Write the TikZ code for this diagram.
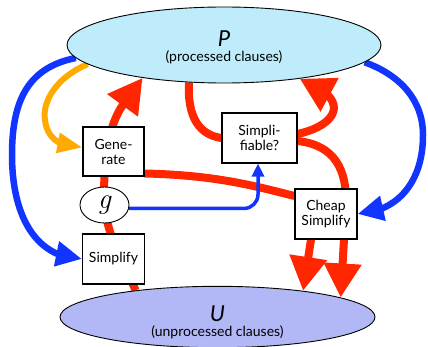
\documentclass[tikz,border=0pt]{standalone}
\usepackage{fontspec}
\setmainfont{Lato}
\newfontfamily\lmfont{Latin Modern Roman}
\usetikzlibrary{arrows.meta,bending,shapes.geometric,backgrounds}
\definecolor{myred}{RGB}{255,38,0}
\definecolor{myblue}{RGB}{18,52,255}
\definecolor{myorange}{RGB}{255,170,0}
\definecolor{pfill}{RGB}{190,236,250}
\definecolor{ufill}{RGB}{178,184,246}
\tikzset{
  boxnode/.style={draw=black, line width=1.1pt, fill=white, inner sep=0pt,
    align=center, font=\fontsize{14}{15}\selectfont},
  setnode/.style={ellipse, draw=black, line width=0.9pt, inner sep=0pt, align=center},
  redline/.style={draw=myred, line width=8pt},
  redarrow/.style={redline, -{Triangle[length=34pt,width=36pt]}},
  redquick/.style={redline, -{Triangle[length=34pt,width=36pt,quick]}},
  bluearrow/.style={draw=myblue, line width=6.5pt, -{Triangle[length=26pt,width=24pt]}},
  orangearrow/.style={draw=myorange, line width=6pt, -{Triangle[length=25pt,width=19pt]}},
  thinblue/.style={draw=myblue, line width=3.5pt, -{Triangle[length=13pt,width=12pt]}}
}
\begin{document}
\begin{tikzpicture}[x=1pt,y=-1pt]
\useasboundingbox (0,0) rectangle (428,347);
\node[setnode, fill=pfill, minimum width=314pt, minimum height=76pt] (P) at (224,45)
  {\rule{0pt}{21pt}{\fontsize{22}{22}\selectfont\itshape P}\\[3pt]{\fontsize{14}{15}\selectfont (processed clauses)}};
\node[setnode, fill=ufill, minimum width=315pt, minimum height=60pt] (U) at (217.5,317)
  {\rule{0pt}{26pt}{\fontsize{22}{22}\selectfont\itshape U}\\[3pt]{\fontsize{14}{15}\selectfont (unprocessed clauses)}};
\node[boxnode, minimum width=61pt, minimum height=49pt] (Gen) at (113.5,151.5) {Gene-\\rate};
\node[boxnode, minimum width=75pt, minimum height=50pt] (Sfb) at (259.5,138) {Simpli-\\fiable?};
\node[boxnode, minimum width=62pt, minimum height=50pt] (Cheap) at (326,214) {Cheap\\Simplify};
\node[boxnode, minimum width=62pt, minimum height=50pt] (Simp) at (113.5,259) {Simplify};
\node[ellipse, draw=black, line width=0.9pt, fill=white, inner sep=0pt,
  minimum width=49pt, minimum height=36pt] (g) at (104.5,205)
  {\lmfont\fontsize{29}{29}\selectfont\itshape g};
\begin{pgfonlayer}{background}
  % red flows
  \draw[redquick] (U.162) .. controls (125,265) and (108,240) .. (g.center)
     .. controls (103,170) and (106,128) .. (P.202);
  \draw[redline] (P.227) .. controls (187,118) and (200,135) .. (Sfb.west);
  \draw[redarrow] ([yshift=4pt]Sfb.east) .. controls (335,126) and (355,100) .. (P.336);
  \draw[redarrow] ([yshift=-3pt]Sfb.east) .. controls (335,145) and (347,170) .. (346,205) -- (U.9);
  \draw[redarrow] ([xshift=-15pt]Cheap.south) -- (U.17);
  \draw[redline] ([yshift=-22pt]Gen.east) .. controls (215,175) and (255,186) .. ([yshift=18pt]Cheap.west);
  % orange
  \draw[orangearrow] (P.188) .. controls (55,78) and (42,103) .. (45,120)
     .. controls (47,138) and (60,148) .. ([yshift=4pt]Gen.west);
  % blue
  \draw[bluearrow] (P.185) .. controls (25,68) and (12,105) .. (12,155)
     .. controls (12,215) and (35,258) .. (Simp.west);
  \draw[bluearrow] (P.353) .. controls (400,75) and (423,100) .. (423,135)
     .. controls (423,185) and (395,212) .. (Cheap.east);
  \draw[thinblue, rounded corners=14pt] (g.-8) -| ([xshift=-1.5pt]Sfb.south);
\end{pgfonlayer}
\end{tikzpicture}
\end{document}
